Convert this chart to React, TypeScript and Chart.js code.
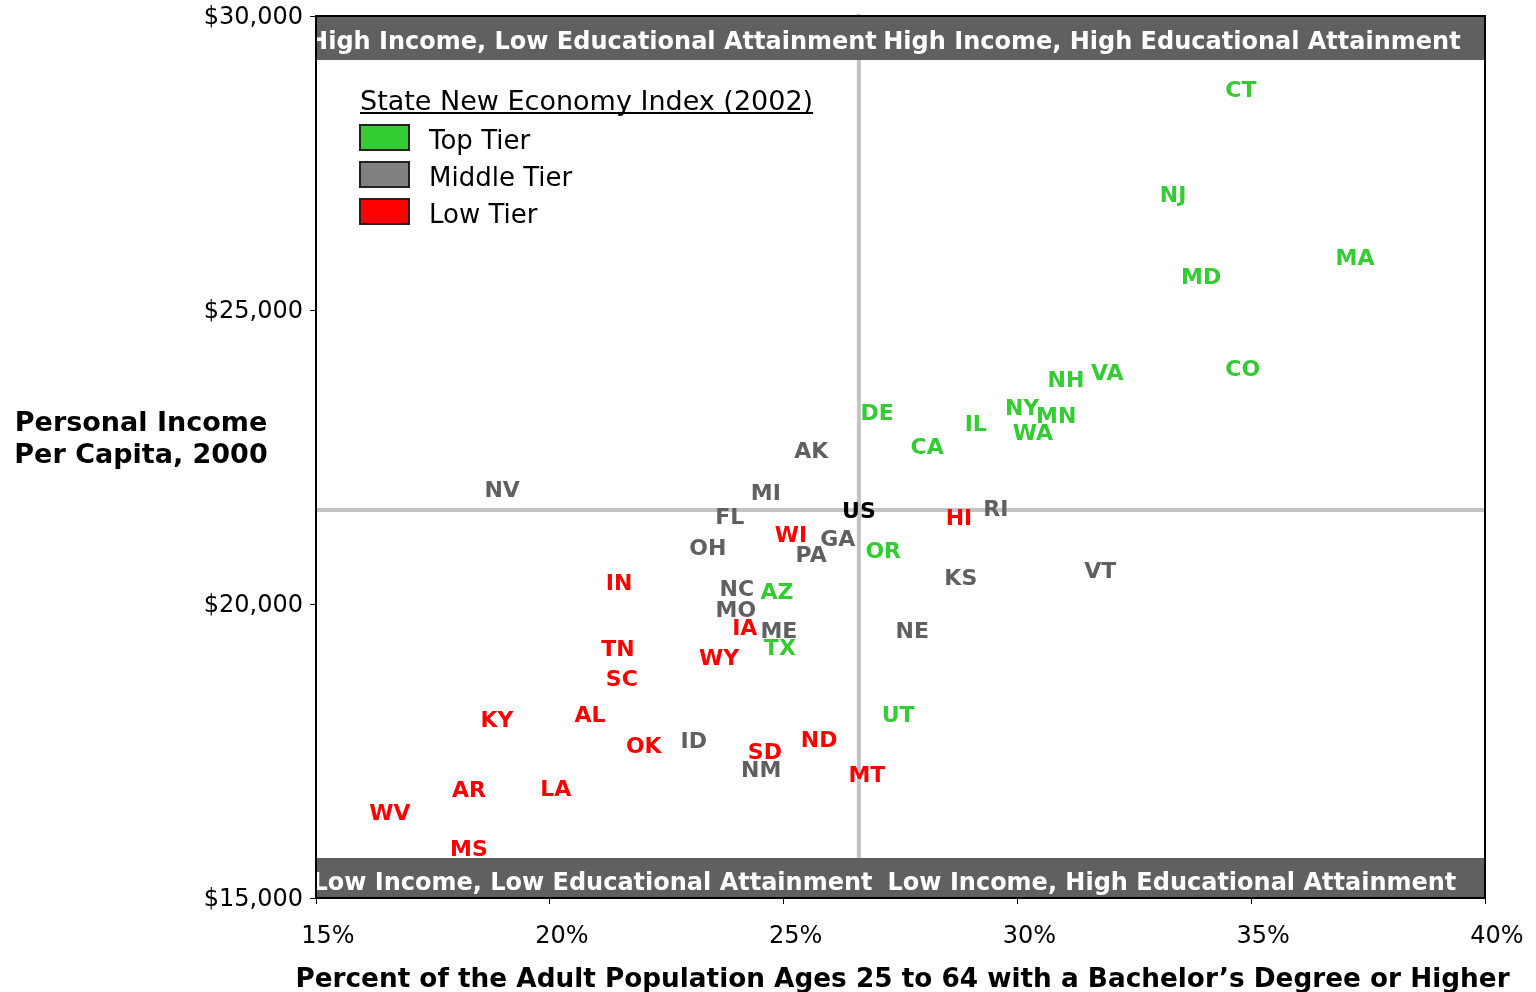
import React, { useEffect, useRef } from 'react';
import { Chart, registerables } from 'chart.js';

Chart.register(...registerables);

const FONT = '"DejaVu Sans", Verdana, sans-serif';

// ---- Data (x = % adults 25-64 with BA+, y = personal income per capita 2000) ----
const topTierStates = ['CT', 'NJ', 'MA', 'MD', 'CO', 'VA', 'NH', 'NY', 'MN', 'WA', 'IL', 'DE', 'CA', 'OR', 'AZ', 'TX', 'UT'];
const topTierEdu = [34.78, 33.33, 37.22, 33.93, 34.82, 31.92, 31.04, 30.1, 30.83, 30.33, 29.11, 27.0, 28.07, 27.13, 24.86, 24.92, 27.45];
const topTierIncome = [28758, 26973, 25901, 25578, 24013, 23946, 23826, 23350, 23214, 22925, 23078, 23265, 22687, 20918, 20221, 19269, 18129];

const middleTierStates = ['AK', 'NV', 'MI', 'RI', 'FL', 'GA', 'OH', 'PA', 'VT', 'KS', 'NC', 'MO', 'ME', 'NE', 'ID', 'NM'];
const middleTierEdu = [25.59, 18.98, 24.62, 29.54, 23.85, 26.16, 23.38, 25.59, 31.77, 28.79, 24.0, 23.98, 24.9, 27.75, 23.08, 24.52];
const middleTierIncome = [22619, 21956, 21905, 21633, 21496, 21122, 20969, 20850, 20578, 20459, 20272, 19915, 19558, 19558, 17687, 17194];

const lowTierStates = ['HI', 'WI', 'IN', 'IA', 'TN', 'WY', 'SC', 'AL', 'KY', 'ND', 'OK', 'SD', 'MT', 'AR', 'LA', 'WV', 'MS'];
const lowTierEdu = [28.75, 25.16, 21.48, 24.17, 21.46, 23.62, 21.54, 20.86, 18.87, 25.76, 22.01, 24.6, 26.78, 18.27, 20.13, 16.58, 18.27];
const lowTierIncome = [21479, 21190, 20374, 19609, 19252, 19099, 18741, 18129, 18044, 17704, 17602, 17500, 17109, 16853, 16871, 16462, 15850];

const usLabel = ['US'];
const usEdu = [26.61];
const usIncome = [21600];

const tierNames = ['Top Tier', 'Middle Tier', 'Low Tier'];
const legendTitle = 'State New Economy Index (2002)';
const quadrantTopLabels = ['High Income, Low Educational Attainment', 'High Income, High Educational Attainment'];
const quadrantBottomLabels = ['Low Income, Low Educational Attainment', 'Low Income, High Educational Attainment'];
const yTitleLines = ['Personal Income', 'Per Capita, 2000'];
const xTitle = 'Percent of the Adult Population Ages 25 to 64 with a Bachelor\u2019s Degree or Higher';

const xMin = 15, xMax = 40, xStep = 5;
const yMin = 15000, yMax = 30000, yStep = 5000;

const toPoints = (edu: number[], inc: number[]) => edu.map((e, i) => ({ x: e, y: inc[i] }));

const labelPlugin = {
  id: 'stateLabels',
  beforeDatasetsDraw(chart: any) {
    const { ctx, chartArea: a, scales } = chart;
    const ux = scales.x.getPixelForValue(usEdu[0]);
    const uy = scales.y.getPixelForValue(usIncome[0]);
    ctx.save();
    ctx.strokeStyle = '#c3c3c3';
    ctx.lineWidth = 4;
    ctx.beginPath();
    ctx.moveTo(ux, a.top - 2);
    ctx.lineTo(ux, a.bottom);
    ctx.moveTo(a.left, uy);
    ctx.lineTo(a.right, uy);
    ctx.stroke();
    ctx.restore();
  },
  afterDatasetsDraw(chart: any) {
    const { ctx, chartArea: a, scales } = chart;
    const ux = scales.x.getPixelForValue(usEdu[0]);
    // quadrant bands
    ctx.save();
    ctx.beginPath();
    ctx.rect(a.left, a.top, a.right - a.left, a.bottom - a.top);
    ctx.clip();
    ctx.fillStyle = '#606060';
    ctx.fillRect(a.left, a.top, a.right - a.left, 44);
    ctx.fillRect(a.left, a.bottom - 40, a.right - a.left, 40);
    ctx.fillStyle = '#ffffff';
    ctx.font = 'bold 24px ' + FONT;
    ctx.textAlign = 'center';
    ctx.textBaseline = 'middle';
    const lc = (a.left + ux) / 2 + 5;
    const rc = (ux + a.right) / 2;
    ctx.fillText(quadrantTopLabels[0], lc, a.top + 27);
    ctx.fillText(quadrantTopLabels[1], rc, a.top + 27);
    ctx.fillText(quadrantBottomLabels[0], lc, a.bottom - 14);
    ctx.fillText(quadrantBottomLabels[1], rc, a.bottom - 14);
    ctx.restore();

    // state labels
    ctx.save();
    ctx.font = 'bold 22px ' + FONT;
    ctx.textAlign = 'center';
    ctx.textBaseline = 'middle';
    chart.data.datasets.forEach((ds: any, di: number) => {
      const meta = chart.getDatasetMeta(di);
      ctx.fillStyle = ds.textColor;
      meta.data.forEach((pt: any, i: number) => {
        ctx.fillText(ds.names[i], pt.x, pt.y + 2);
      });
    });
    ctx.restore();

    // plot border
    ctx.save();
    ctx.strokeStyle = '#000';
    ctx.lineWidth = 2;
    ctx.strokeRect(a.left, a.top, a.right - a.left, a.bottom - a.top);
    ctx.restore();

    // legend
    ctx.save();
    const lx = a.left + 44;
    ctx.fillStyle = '#000';
    ctx.font = '27px ' + FONT;
    ctx.textAlign = 'left';
    ctx.textBaseline = 'alphabetic';
    ctx.fillText(legendTitle, lx, 110);
    const tw = ctx.measureText(legendTitle).width;
    ctx.fillRect(lx, 112, tw, 2);
    ctx.font = '26px ' + FONT;
    chart.data.datasets.slice(0, 3).forEach((ds: any, i: number) => {
      const y = 125 + i * 37;
      ctx.fillStyle = ds.swatch;
      ctx.fillRect(lx, y, 49, 25);
      ctx.strokeStyle = '#222';
      ctx.lineWidth = 2;
      ctx.strokeRect(lx, y, 49, 25);
      ctx.fillStyle = '#000';
      ctx.textBaseline = 'middle';
      ctx.fillText(ds.label, lx + 69, y + 17);
    });
    ctx.restore();

    // axis titles
    ctx.save();
    ctx.fillStyle = '#000';
    ctx.font = 'bold 27px ' + FONT;
    ctx.textAlign = 'center';
    ctx.textBaseline = 'middle';
    ctx.fillText(yTitleLines[0], 141, 424);
    ctx.fillText(yTitleLines[1], 141, 456);
    ctx.font = 'bold 26.3px ' + FONT;
    ctx.fillText(xTitle, (a.left + a.right) / 2 + 2, 980);
    ctx.restore();
  },
};

export default function App() {
  const ref = useRef<HTMLCanvasElement | null>(null);
  useEffect(() => {
    if (!ref.current) return;
    const chart = new Chart(ref.current, {
      type: 'scatter',
      data: {
        datasets: [
          { label: tierNames[0], names: topTierStates, textColor: '#33cc33', swatch: '#33cc33', data: toPoints(topTierEdu, topTierIncome), pointRadius: 0 } as any,
          { label: tierNames[1], names: middleTierStates, textColor: '#606060', swatch: '#808080', data: toPoints(middleTierEdu, middleTierIncome), pointRadius: 0 } as any,
          { label: tierNames[2], names: lowTierStates, textColor: '#ff0000', swatch: '#ff0000', data: toPoints(lowTierEdu, lowTierIncome), pointRadius: 0 } as any,
          { label: 'US', names: usLabel, textColor: '#000000', swatch: '#000', data: toPoints(usEdu, usIncome), pointRadius: 0 } as any,
        ],
      },
      options: {
        responsive: false,
        animation: false,
        devicePixelRatio: 1,
        layout: { padding: { top: 16, right: 51, left: 0, bottom: 0 } },
        plugins: { legend: { display: false }, tooltip: { enabled: false } },
        scales: {
          x: {
            type: 'linear',
            min: xMin,
            max: xMax,
            afterFit: (s: any) => { s.height = 94; s.paddingLeft = 0; s.paddingRight = 0; },
            border: { display: true, color: '#000', width: 2 },
            grid: { drawOnChartArea: false, drawTicks: true, tickLength: 6, color: '#000' },
            ticks: {
              stepSize: xStep,
              autoSkip: false,
              maxRotation: 0,
              padding: 18,
              labelOffset: 12,
              color: '#000',
              font: { family: FONT, size: 24 },
              callback: (v: any) => v + '%',
            },
            title: { display: false },
          },
          y: {
            type: 'linear',
            min: yMin,
            max: yMax,
            afterFit: (s: any) => { s.width = 316; s.paddingTop = 0; s.paddingBottom = 0; },
            border: { display: true, color: '#000', width: 2 },
            grid: { drawOnChartArea: false, drawTicks: true, tickLength: 6, color: '#000' },
            ticks: {
              stepSize: yStep,
              padding: 7,
              labelOffset: 2,
              color: '#000',
              font: { family: FONT, size: 24 },
              callback: (v: any) => '$' + Number(v).toLocaleString('en-US'),
            },
          },
        },
      } as any,
      plugins: [labelPlugin],
    });
    return () => chart.destroy();
  }, []);
  return (
    <div style={{ position: 'fixed', left: 0, top: 0, width: 1536, height: 992, background: '#fff' }}>
      <canvas ref={ref} width={1536} height={992} />
    </div>
  );
}
